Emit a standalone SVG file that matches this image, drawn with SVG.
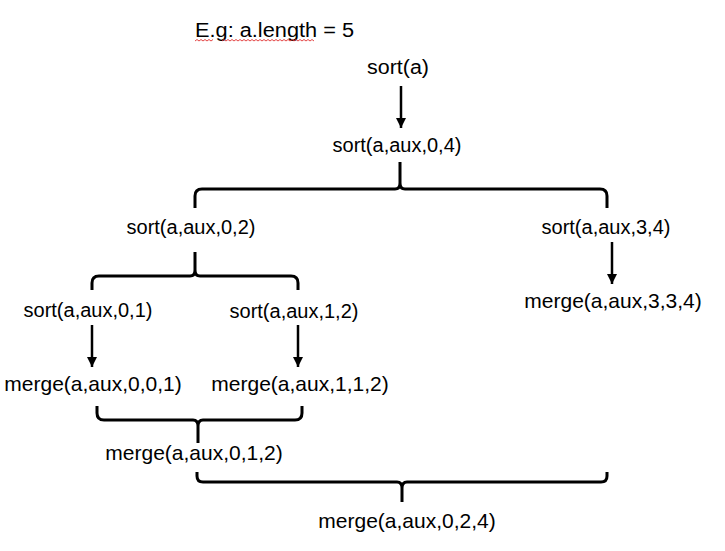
<svg xmlns="http://www.w3.org/2000/svg" width="725" height="551" viewBox="0 0 725 551">
<style>
text{font-family:"Liberation Sans","Noto Sans",Arial,sans-serif;font-size:20px;fill:#000;text-anchor:middle}
.m{font-size:21px}
.brace{fill:none;stroke:#000;stroke-width:3;stroke-linejoin:round}
.arrow{stroke:#000;stroke-width:2.5;fill:none}
.squig{fill:none;stroke:#e03030;stroke-width:0.9}
</style>
<defs>
<marker id="ah" viewBox="0 0 10 10" refX="10" refY="5" markerWidth="10" markerHeight="10" markerUnits="userSpaceOnUse" orient="auto">
<path d="M0,0 L10,5 L0,10 z" fill="#000"/>
</marker>
</defs>
<rect width="725" height="551" fill="#fff"/>
<g id="title">
<text x="195" y="37" style="text-anchor:start" textLength="159" lengthAdjust="spacingAndGlyphs">E.g: a.length = 5</text>
<path class="squig" d="M195,41 l2,-1.5 l2,1.5 l2,-1.5 l2,1.5 l2,-1.5 l2,1.5 l2,-1.5 l2,1.5 l2,-1.5 M222,41 l2,-1.5 l2,1.5 l2,-1.5 l2,1.5 l2,-1.5 l2,1.5 l2,-1.5 l2,1.5 l2,-1.5 l2,1.5 l2,-1.5 l2,1.5 l2,-1.5 l2,1.5 l2,-1.5 l2,1.5 l2,-1.5 l2,1.5 l2,-1.5 l2,1.5 l2,-1.5 l2,1.5 l2,-1.5 l2,1.5 l2,-1.5 l2,1.5 l2,-1.5 l2,1.5 l2,-1.5 l2,1.5 l2,-1.5 l2,1.5 l2,-1.5 l2,1.5 l2,-1.5 l2,1.5 l2,-1.5 l2,1.5 l2,-1.5 l2,1.5 l2,-1.5 l2,1.5 l2,-1.5 l2,1.5 l2,-1.5 l2,1.5"/>
</g>
<g id="n-sort-a"><text x="398" y="74" textLength="62" lengthAdjust="spacingAndGlyphs">sort(a)</text></g>
<g id="n-sort-0-4"><text x="397" y="152">sort(a,aux,0,4)</text></g>
<g id="n-sort-0-2"><text x="191" y="234">sort(a,aux,0,2)</text></g>
<g id="n-sort-3-4"><text x="606" y="234">sort(a,aux,3,4)</text></g>
<g id="n-sort-0-1"><text x="88" y="317">sort(a,aux,0,1)</text></g>
<g id="n-sort-1-2"><text x="294" y="318">sort(a,aux,1,2)</text></g>
<g id="n-merge-3-3-4"><text class="m" x="613" y="308">merge(a,aux,3,3,4)</text></g>
<g id="n-merge-0-0-1"><text class="m" x="93" y="391">merge(a,aux,0,0,1)</text></g>
<g id="n-merge-1-1-2"><text class="m" x="300" y="391">merge(a,aux,1,1,2)</text></g>
<g id="n-merge-0-1-2"><text class="m" x="194" y="460">merge(a,aux,0,1,2)</text></g>
<g id="n-merge-0-2-4"><text class="m" x="407" y="528">merge(a,aux,0,2,4)</text></g>
<g id="connectors">
<line class="arrow" x1="401" y1="86" x2="401" y2="128" marker-end="url(#ah)"/>
<line class="arrow" x1="92" y1="325" x2="92" y2="367" marker-end="url(#ah)"/>
<line class="arrow" x1="298" y1="325" x2="298" y2="367" marker-end="url(#ah)"/>
<line class="arrow" x1="612" y1="242" x2="612" y2="284" marker-end="url(#ah)"/>
<path class="brace" d="M195,208 L195,196 Q195,189 202,189 L395,189 Q400,189 400,183 L400,162 M400,183 Q400,189 405,189 L600,189 Q607,189 607,196 L607,208"/>
<path class="brace" d="M92,290 L92,283 Q92,276 99,276 L190,276 Q195,276 195,270 L195,252 M195,270 Q195,276 200,276 L291,276 Q298,276 298,283 L298,290"/>
<path class="brace" d="M97,406 L97,413 Q97,420 104,420 L193,420 Q198,420 198,426 L198,443 M198,426 Q198,420 203,420 L295,420 Q302,420 302,413 L302,406"/>
<path class="brace" d="M197,472 L197,476 Q197,482 203,482 L397,482 Q402,482 402,488 L402,502 M402,488 Q402,482 407,482 L601,482 Q607,482 607,476 L607,472"/>
</g>
</svg>
